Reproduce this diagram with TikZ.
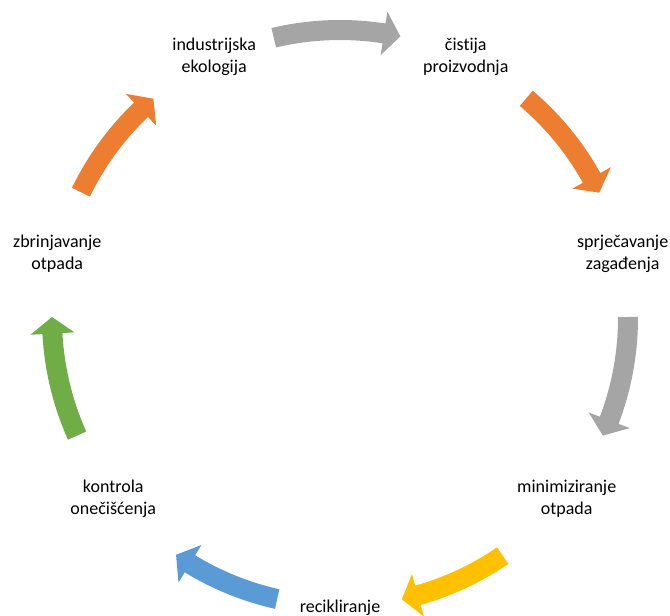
\documentclass[tikz,border=0pt]{standalone}
\usepackage{fontspec}
\setmainfont{Carlito}[Ligatures=NoCommon]
\definecolor{agray}{HTML}{A5A5A5}
\definecolor{aorange}{HTML}{ED7D31}
\definecolor{ayellow}{HTML}{FFC000}
\definecolor{ablue}{HTML}{5B9BD5}
\definecolor{agreen}{HTML}{70AD47}
\begin{document}
\begin{tikzpicture}[x=1pt,y=1pt]
\useasboundingbox (-340,-298) rectangle (330,318);
\tikzset{lbl/.style={align=center, font=\fontsize{18}{22}\selectfont, inner sep=0pt, text=black}}
\node[lbl] (ind) at (115.71:290) {industrijska\\ekologija};
\node[lbl] (cis) at (64.29:290) {čistija\\proizvodnja};
\node[lbl] (spr) at (12.86:290) {sprječavanje\\zagađenja};
\node[lbl] (min) at (-38.57:290) {minimiziranje\\otpada};
\node[lbl] (rec) at (-90:290) {recikliranje};
\node[lbl] (kon) at (-141.43:290) {kontrola\\onečišćenja};
\node[lbl] (zbr) at (-192.86:290) {zbrinjavanje\\otpada};
\foreach \aa/\ab/\col in {103.3/77.9/agray, 49.7/25.8/aorange, 0.2/-24.1/agray, -55.6/-77.6/ayellow, -102.6/-124.7/ablue, 204.1/179.8/agreen, 154.1/130.4/aorange} {
  \pgfmathsetmacro\ah{\ab+3.3}
  \fill[\col] (\aa:298) arc[start angle=\aa, end angle=\ah, radius=298] -- (\ah:310) -- (\ab:288) -- (\ah:266) -- (\ah:278) arc[start angle=\ah, end angle=\aa, radius=278] -- cycle;
}
\end{tikzpicture}
\end{document}
